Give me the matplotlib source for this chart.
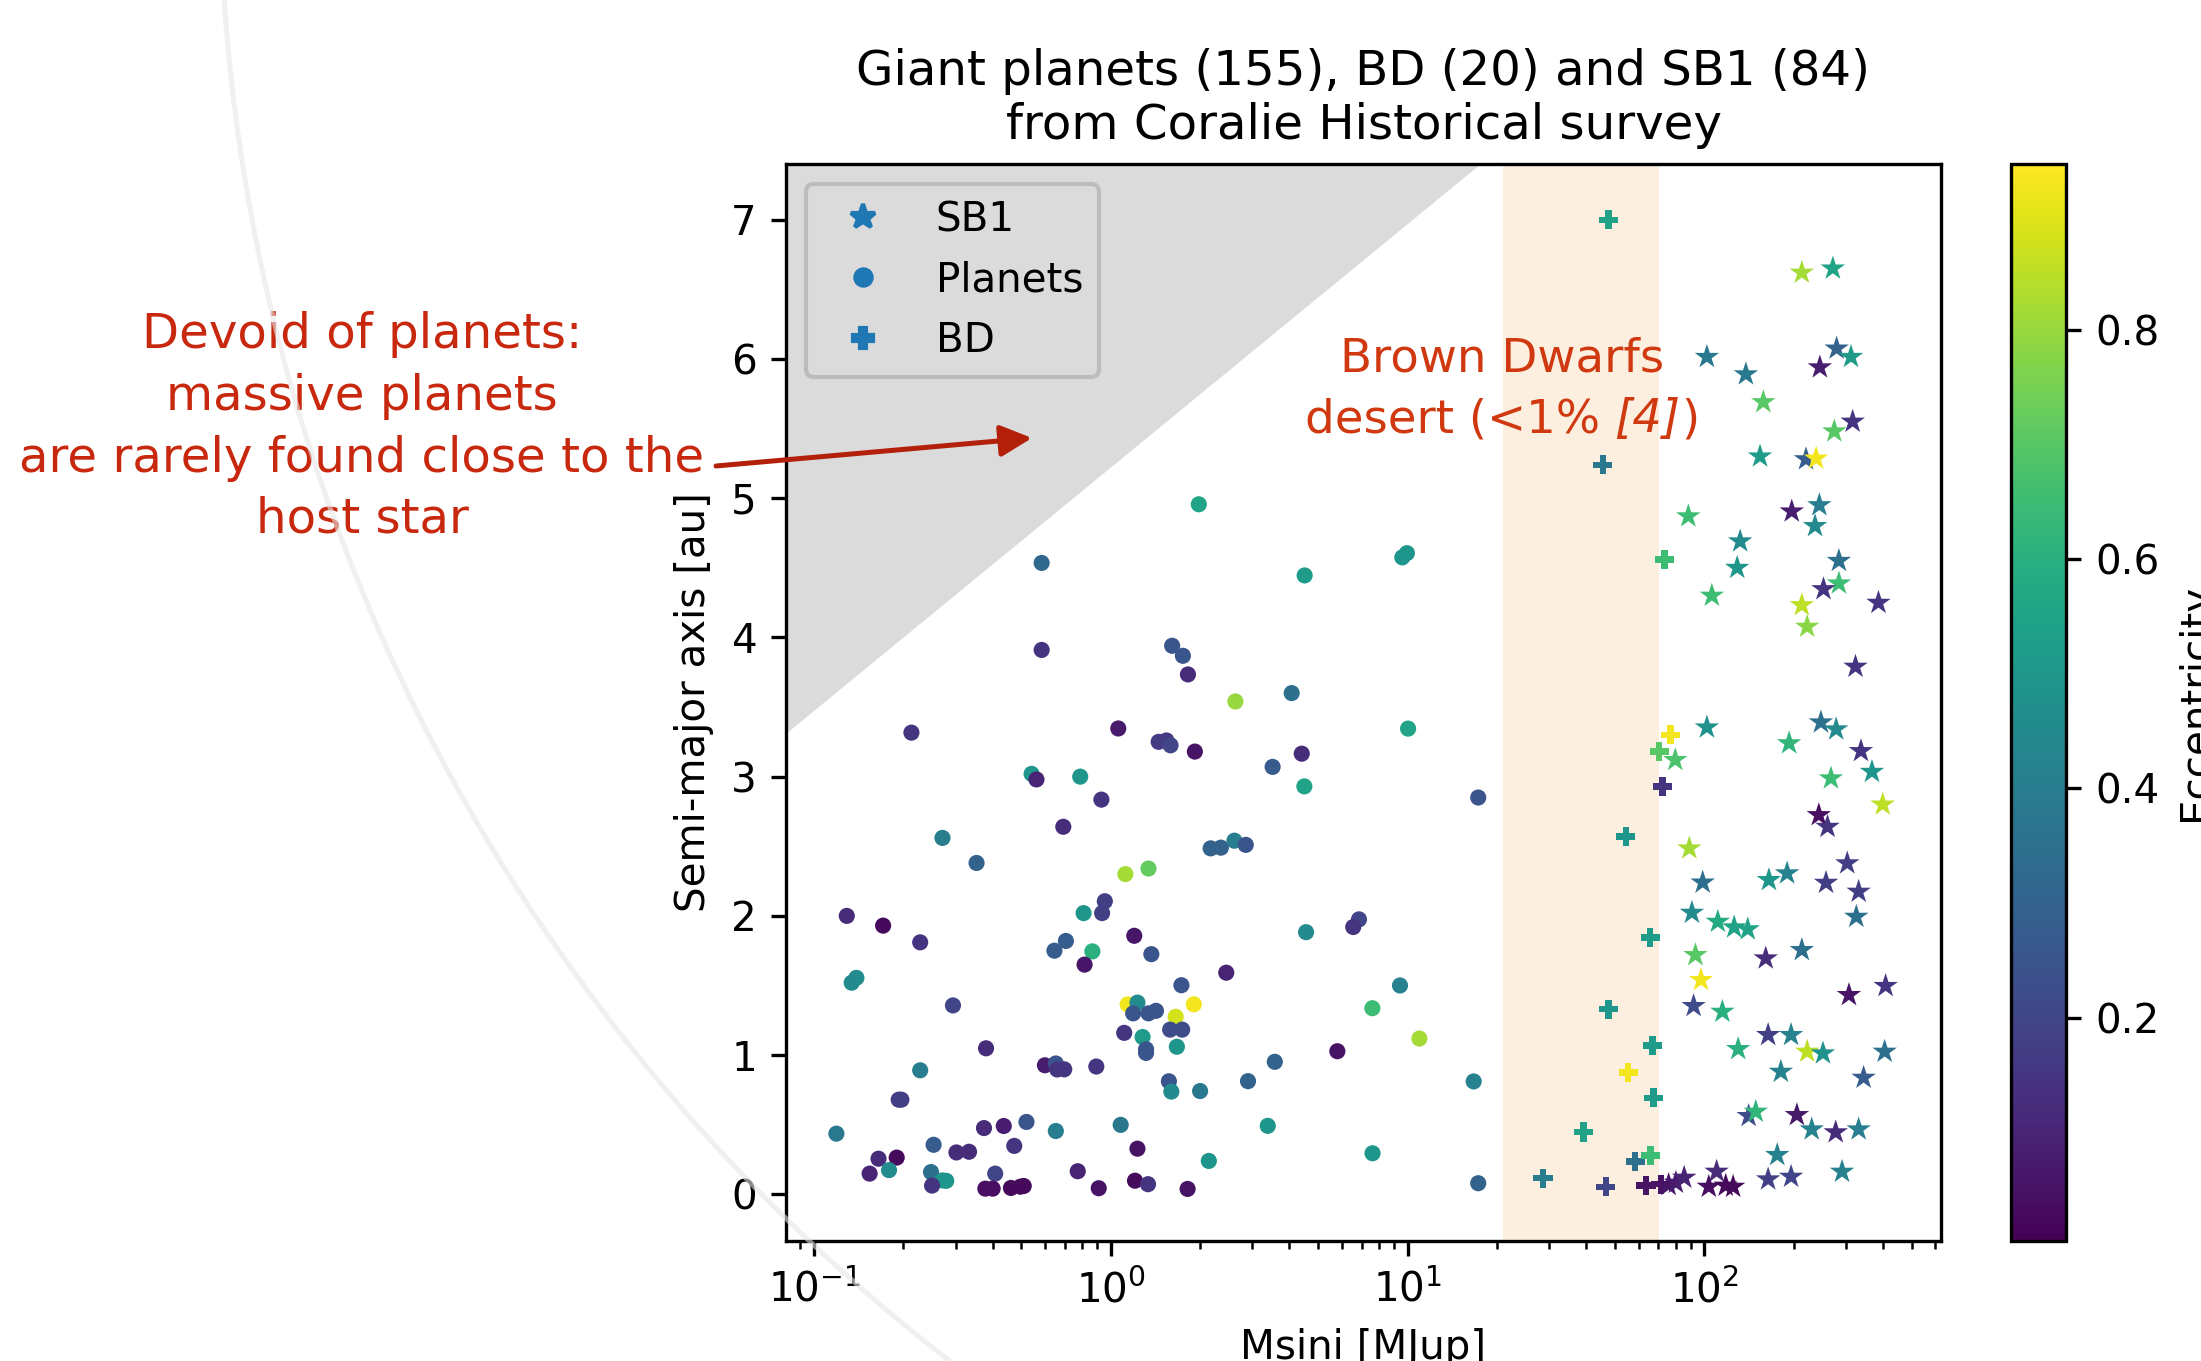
import numpy as np
import matplotlib
matplotlib.use("Agg")
import matplotlib.pyplot as plt
from matplotlib.lines import Line2D
from matplotlib.colors import Normalize
from matplotlib.cm import ScalarMappable
from matplotlib.patches import FancyArrowPatch

plt.rcParams['font.family'] = ['DejaVu Sans']

# ---------------- data ----------------
planet_msini = [1.98, 0.585, 4.5, 0.585, 1.61, 1.75, 1.82, 9.6, 9.95, 10.04, 17.3, 9.43, 10.96, 16.7, 17.3,
                2.63, 4.07, 0.213, 1.06, 1.45, 1.54, 1.59, 1.92, 4.40, 3.51, 4.49, 0.541, 0.562, 0.789, 0.93,
                0.692, 0.271, 0.353, 2.17, 2.35, 2.61, 2.85, 1.12, 1.34, 0.129, 0.171, 0.228, 0.955, 0.935,
                0.81, 0.706, 0.646, 0.867, 0.816, 1.20, 1.37, 4.55, 6.86, 6.56, 7.61, 2.45, 0.134, 0.139,
                0.294, 1.73, 1.14, 1.23, 1.19, 1.34, 1.42, 1.905, 1.655, 1.11, 1.585, 1.74, 1.28, 1.315,
                1.315, 1.67, 5.8, 0.38, 0.60, 0.653, 0.66, 0.697, 0.894, 0.228, 3.57, 1.57, 1.60, 2.0,
                2.90, 0.193, 0.197, 0.119, 0.374, 0.436, 0.52, 0.653, 1.08, 3.38, 7.62, 2.14, 1.23, 0.253,
                0.302, 0.333, 0.473, 0.165, 0.19, 0.154, 0.179, 0.248, 0.271, 0.279, 0.25, 0.408, 0.378,
                0.40, 0.461, 0.496, 0.509, 0.774, 0.911, 1.207, 1.335, 1.815]
planet_a = [4.956, 4.535, 4.445, 3.91, 3.94, 3.868, 3.734, 4.575, 4.605, 3.345, 2.85, 1.50, 1.119, 0.811, 0.080,
            3.54, 3.60, 3.316, 3.346, 3.25, 3.26, 3.225, 3.18, 3.165, 3.07, 2.93, 3.02, 2.98, 3.00, 2.835,
            2.64, 2.56, 2.38, 2.485, 2.49, 2.54, 2.51, 2.30, 2.34, 2.0, 1.93, 1.81, 2.105, 2.02,
            2.02, 1.82, 1.75, 1.745, 1.65, 1.857, 1.725, 1.883, 1.975, 1.92, 1.337, 1.592, 1.52, 1.555,
            1.357, 1.502, 1.364, 1.377, 1.30, 1.30, 1.318, 1.365, 1.275, 1.16, 1.183, 1.183, 1.13, 1.042,
            1.016, 1.06, 1.028, 1.049, 0.927, 0.94, 0.897, 0.898, 0.918, 0.891, 0.952, 0.812, 0.738, 0.742,
            0.813, 0.68, 0.68, 0.436, 0.476, 0.491, 0.52, 0.455, 0.499, 0.492, 0.295, 0.24, 0.328, 0.356,
            0.301, 0.306, 0.348, 0.256, 0.264, 0.149, 0.174, 0.16, 0.10, 0.097, 0.063, 0.149, 0.041,
            0.041, 0.046, 0.055, 0.06, 0.166, 0.044, 0.098, 0.073, 0.039]
planet_ecc = [0.55, 0.32, 0.52, 0.15, 0.25, 0.25, 0.12, 0.50, 0.50, 0.55, 0.25, 0.42, 0.82, 0.42, 0.30,
              0.80, 0.35, 0.15, 0.07, 0.17, 0.17, 0.20, 0.05, 0.12, 0.27, 0.55, 0.50, 0.10, 0.50, 0.15,
              0.12, 0.40, 0.30, 0.30, 0.30, 0.40, 0.25, 0.82, 0.72, 0.12, 0.03, 0.15, 0.18, 0.18,
              0.50, 0.28, 0.28, 0.60, 0.06, 0.06, 0.25, 0.45, 0.20, 0.15, 0.65, 0.10, 0.45, 0.45,
              0.20, 0.25, 0.93, 0.45, 0.25, 0.25, 0.25, 0.93, 0.88, 0.15, 0.22, 0.22, 0.52, 0.25,
              0.25, 0.50, 0.05, 0.12, 0.08, 0.25, 0.15, 0.15, 0.15, 0.40, 0.30, 0.25, 0.45, 0.38,
              0.30, 0.18, 0.18, 0.38, 0.12, 0.08, 0.25, 0.40, 0.38, 0.50, 0.50, 0.50, 0.05, 0.28,
              0.12, 0.12, 0.15, 0.12, 0.03, 0.10, 0.45, 0.35, 0.50, 0.50, 0.15, 0.20, 0.04,
              0.04, 0.03, 0.03, 0.03, 0.10, 0.05, 0.03, 0.15, 0.05]

sb1_msini = [213, 271, 102, 138, 279, 312, 245, 158, 316, 274, 154, 220, 238, 197, 244, 236, 88.3, 132,
             129, 106, 284, 284, 252, 213, 222, 386, 323, 102, 79.8, 193, 247, 278, 337, 367, 267, 399,
             243, 260, 89, 98.7, 165, 190, 257, 303, 331,
             90.8, 111, 126, 140, 93.3, 161, 213, 97.4, 307, 408, 325, 92, 115, 130, 164, 196, 222, 251,
             181, 344, 405, 141, 149, 205, 230, 277, 331, 176, 291, 164, 196, 75.8, 80.2, 85.5, 110,
             103.5, 118, 125]
sb1_a = [6.62, 6.65, 6.015, 5.89, 6.075, 6.015, 5.94, 5.69, 5.55, 5.48, 5.30, 5.28, 5.285, 4.905, 4.95, 4.80, 4.87, 4.69,
         4.50, 4.30, 4.55, 4.388, 4.347, 4.232, 4.077, 4.249, 3.79, 3.354, 3.12, 3.24, 3.39, 3.34, 3.184, 3.035, 2.988, 2.80,
         2.724, 2.64, 2.485, 2.24, 2.258, 2.306, 2.238, 2.378, 2.174,
         2.023, 1.958, 1.918, 1.904, 1.719, 1.695, 1.755, 1.54, 1.432, 1.497, 1.994, 1.353, 1.312, 1.044, 1.145, 1.145, 1.025, 1.013,
         0.881, 0.838, 1.025, 0.563, 0.594, 0.570, 0.467, 0.446, 0.467, 0.283, 0.163, 0.108, 0.127, 0.068, 0.084, 0.12, 0.163,
         0.055, 0.063, 0.055]
sb1_ecc = [0.82, 0.55, 0.38, 0.38, 0.30, 0.52, 0.08, 0.70, 0.15, 0.70, 0.52, 0.28, 0.93, 0.08, 0.40, 0.45, 0.65, 0.45,
           0.50, 0.65, 0.35, 0.65, 0.15, 0.85, 0.78, 0.15, 0.15, 0.48, 0.68, 0.62, 0.35, 0.45, 0.15, 0.50, 0.65, 0.85,
           0.04, 0.15, 0.82, 0.35, 0.50, 0.42, 0.18, 0.18, 0.18,
           0.45, 0.58, 0.55, 0.55, 0.70, 0.12, 0.35, 0.93, 0.05, 0.15, 0.35, 0.22, 0.60, 0.60, 0.18, 0.42, 0.85, 0.48,
           0.42, 0.28, 0.35, 0.22, 0.62, 0.07, 0.42, 0.12, 0.40, 0.42, 0.42, 0.18, 0.20, 0.06, 0.08, 0.10, 0.12,
           0.04, 0.03, 0.03]

bd_msini = [47.5, 45.5, 73.3, 77.0, 70.5, 72.3, 54.4, 65.7, 47.6, 66.9, 55.4, 67.3, 39.2, 58.5, 65.8, 28.6, 46.6, 63.6, 71.4]
bd_a = [7.0, 5.24, 4.56, 3.30, 3.18, 2.93, 2.57, 1.845, 1.33, 1.07, 0.874, 0.694, 0.448, 0.235, 0.278, 0.116, 0.055, 0.063, 0.073]
bd_ecc = [0.55, 0.38, 0.65, 0.93, 0.70, 0.15, 0.50, 0.52, 0.50, 0.52, 0.93, 0.52, 0.55, 0.35, 0.65, 0.40, 0.20, 0.05, 0.05]

legend_labels = ["SB1", "Planets", "BD"]
title_text = "Giant planets (155), BD (20) and SB1 (84)\nfrom Coralie Historical survey"
devoid_lines = ["Devoid of planets:", "massive planets", "are rarely found close to the", "host star"]

# ---------------- figure ----------------
W, H = 2201, 1361
DPI = 300
fig = plt.figure(figsize=(W / DPI, H / DPI), dpi=DPI)
fig.patch.set_facecolor('white')

def fx(px):
    return px / W

def fy(py):
    return 1 - py / H

ax = fig.add_axes([fx(786), fy(1241), (1941 - 786) / W, (1241 - 164) / H])
cax = fig.add_axes([fx(2011), fy(1241), 55 / W, (1241 - 164) / H])

ax.set_xscale('log')
ax.set_xlim(0.0805, 627)
ax.set_ylim(-0.335, 7.40)

# regions
ax.fill([0.0805, 0.0805, 17.7], [3.306, 7.40, 7.40], color='#dbdbdb', lw=0, zorder=0.5)
ax.axvspan(21.0, 70.3, color='#fdefdf', lw=0, zorder=0.4)

norm = Normalize(vmin=0.005, vmax=0.945)
cmap = 'viridis'
ax.scatter(sb1_msini, sb1_a, c=sb1_ecc, cmap=cmap, norm=norm, marker='*', s=38, linewidths=0, zorder=2)
ax.scatter(planet_msini, planet_a, c=planet_ecc, cmap=cmap, norm=norm, marker='o', s=15, linewidths=0, zorder=2)
ax.scatter(bd_msini, bd_a, c=bd_ecc, cmap=cmap, norm=norm, marker='P', s=21, linewidths=0, zorder=2)

fs = 9.7
handles = [Line2D([], [], ls='', marker='*', color='#1f77b4', markersize=6.2),
           Line2D([], [], ls='', marker='o', color='#1f77b4', markersize=3.9),
           Line2D([], [], ls='', marker='P', color='#1f77b4', markersize=4.6)]
leg = ax.legend(handles, legend_labels, loc='upper left', fontsize=fs, framealpha=1)
leg.get_frame().set_facecolor('#dbdbdb')
leg.get_frame().set_edgecolor('#bcbcbc')

ax.tick_params(labelsize=fs)
ax.set_title(title_text, fontsize=11.6)
ax.set_ylabel('Semi-major axis [au]', fontsize=fs)
ax.set_xlabel('Msini [MJup]', fontsize=fs)

cb = fig.colorbar(ScalarMappable(norm=norm, cmap=cmap), cax=cax)
cb.set_label('Eccentricity', fontsize=fs)
cb.ax.tick_params(labelsize=fs)

# ---------------- annotations ----------------
red1 = '#c8280e'
red2 = '#d0390f'
for line, ypx in zip(devoid_lines, [334, 396, 458, 519]):
    fig.text(fx(362), fy(ypx), line, ha='center', va='center', color=red1, fontsize=11.6)

arrow = FancyArrowPatch((fx(716), fy(466)), (fx(1032), fy(438)), transform=fig.transFigure,
                        arrowstyle='-|>,head_length=0.4,head_width=0.2', mutation_scale=16,
                        color='#b3200a', lw=1.2, shrinkA=0, shrinkB=0, zorder=6)
fig.add_artist(arrow)

fs_red = 11.2
fig.text(fx(1502), fy(371), "Brown Dwarfs", ha='center', va='baseline', color=red2, fontsize=fs_red)
r = fig.canvas.get_renderer()
ta = fig.text(0, 0, "desert (<1%", fontsize=fs_red, color=red2, va='baseline')
tb = fig.text(0, 0, "[4]", fontsize=fs_red, color=red2, style='italic', va='baseline')
tc = fig.text(0, 0, ")", fontsize=fs_red, color=red2, va='baseline')
wa = ta.get_window_extent(r).width
wb = tb.get_window_extent(r).width
wc = tc.get_window_extent(r).width
em = fs_red * DPI / 72
gap1 = 0.30 * em
gap2 = 0.03 * em
total = wa + gap1 + wb + gap2 + wc
x0 = 1502 - total / 2
yb = fy(432)
ta.set_position((fx(x0), yb))
tb.set_position((fx(x0 + wa + gap1), yb))
tc.set_position((fx(x0 + wa + gap1 + wb + gap2), yb))

# faint decorative arc of the slide background
th = np.linspace(np.deg2rad(127.0), np.deg2rad(176.5), 400)
arc_x = 2100 + 1880 * np.cos(th)
arc_y = -126 + 1880 * np.sin(th)
fig.add_artist(Line2D(fx(arc_x), fy(arc_y), transform=fig.transFigure, color='#e6e6e6',
                      lw=1.2, alpha=0.6, zorder=20, solid_capstyle='butt'))

fig.savefig('out.png', dpi=DPI)
